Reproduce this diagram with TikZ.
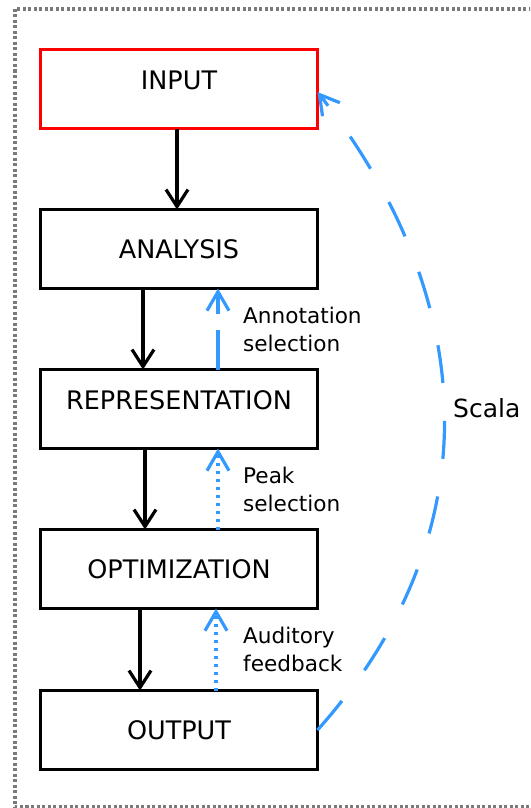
\documentclass[tikz,border=0pt]{standalone}
\usepackage{fontspec}
\setmainfont{DejaVu Sans}
\usetikzlibrary{arrows.meta}
\definecolor{fbblue}{HTML}{3399FF}
\definecolor{fbred}{HTML}{FF0000}
\definecolor{framegray}{HTML}{7A7A7A}
\begin{document}
\begin{tikzpicture}[x=1pt,y=-1pt,
  box/.style={draw=black, line width=3.2pt, minimum width=277pt, minimum height=79pt,
    inner sep=0pt, outer sep=0pt, font=\fontsize{25.5}{28}\selectfont, text height=18.5pt, text depth=0pt},
  flow/.style={draw=black, line width=3.2pt, -{Straight Barb[length=17pt,width=22pt]}},
  fb/.style={draw=fbblue, line width=3.2pt, -{Straight Barb[length=19pt,width=22pt]}},
  fbdot/.style={fb, dash pattern=on 3pt off 5pt},
  lbl/.style={anchor=base west, inner sep=0pt, align=left, font=\fontsize{21.6}{28}\selectfont},
  frame/.style={draw=framegray, line width=3.3pt, dash pattern=on 3pt off 2.5pt},
]
\useasboundingbox (0,0) rectangle (530,808);
\clip (0,0) rectangle (530,808);
\draw[frame] (15,9) rectangle (545,807);

\node[box, draw=fbred, text depth=17.5pt] (in) at (179,89) {INPUT};
\node[box] (an) at (179,249) {ANALYSIS};
\node[box, text depth=18.5pt] (rep) at (179,409) {REPRESENTATION};
\node[box] (opt) at (179,569) {OPTIMIZATION};
\node[box] (out) at (179,730) {OUTPUT};

\draw[flow] ([xshift=-2pt]in.south) -- ([xshift=-2pt]an.north);
\draw[flow] ([xshift=-36pt]an.south) -- ([xshift=-36pt]rep.north);
\draw[flow] ([xshift=-34pt]rep.south) -- ([xshift=-34pt]opt.north);
\draw[flow] ([xshift=-39pt]opt.south) -- ([xshift=-39pt]out.north);

\draw[fb, dash pattern=on 40pt off 16pt] ([xshift=39pt]rep.north) -- ([xshift=39pt]an.south);
\draw[fbdot] ([xshift=39pt]opt.north) -- ([xshift=39pt]rep.south);
\draw[fbdot] ([xshift=37pt]out.north) -- ([xshift=37pt]opt.south);
\draw[fb, dash pattern=on 38pt off 38pt] (out.east) .. controls (492.5,534.5) and (480.3,300) .. ([yshift=-3pt]in.east);

\node[lbl] (l1) at (243,351) {Annotation\\selection};
\node[lbl] (l2) at (243,511) {Peak\\selection};
\node[lbl] (l3) at (243,671) {Auditory\\feedback};
\node[lbl, font=\fontsize{25}{28}\selectfont] (l4) at (453,417) {Scala};
\end{tikzpicture}
\end{document}
